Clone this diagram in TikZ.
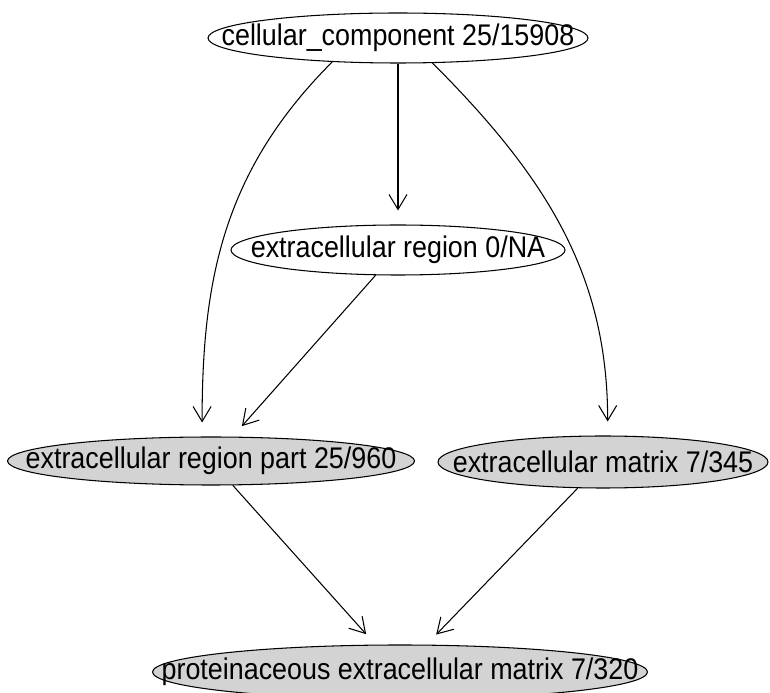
\documentclass[tikz,border=0pt]{standalone}
\usepackage{graphicx}
\usepackage{fontspec}
\setmainfont{Liberation Sans}
\usetikzlibrary{shapes.geometric,arrows.meta}

\definecolor{termgray}{RGB}{211,211,211}
\newcommand{\goterm}[1]{\makebox[0pt]{\scalebox{0.9}[1]{#1}}}

\begin{document}
\begin{tikzpicture}[
		term/.style={draw, ellipse, line width=0.6pt, inner sep=0pt, font=\fontsize{17}{20}\selectfont},
		hit/.style={term, fill=termgray},
		isa/.style={line width=0.6pt, -{Straight Barb[length=3mm,width=3.6mm]}, shorten >=2.8mm}
	]
	
	% cadre
	\useasboundingbox (0,0) rectangle (15.4,-13.86);
	
	% les termes GO
	\node[term, minimum width=7.6cm, minimum height=1.0cm] (cc) at (7.96,-0.76) {\goterm{cellular\_component 25/15908}};
	\node[term, minimum width=6.68cm, minimum height=1.0cm] (er) at (7.96,-5.0) {\goterm{extracellular region 0/NA}};
	\node[hit, minimum width=8.14cm, minimum height=0.96cm] (erp) at (4.22,-9.22) {\goterm{extracellular region part 25/960}};
	\node[hit, minimum width=6.6cm, minimum height=1.04cm] (em) at (12.06,-9.24) {\goterm{extracellular matrix 7/345}};
	\node[hit, minimum width=9.9cm, minimum height=1.08cm] (pem) at (8.0,-13.44) {\goterm{proteinaceous extracellular matrix 7/320}};
	
	% fleches depuis cellular_component
	\draw[isa] (cc) -- (er);
	\draw[isa] (cc.200) to[out=225, in=90] (erp.110);
	\draw[isa] (cc.324) to[out=315, in=90] (em.80);
	
	% fleches vers les termes du bas
	\draw[isa] (er) -- (erp);
	\draw[isa] (erp) -- (pem);
	\draw[isa] (em) -- (pem);
	
\end{tikzpicture}
\end{document}
